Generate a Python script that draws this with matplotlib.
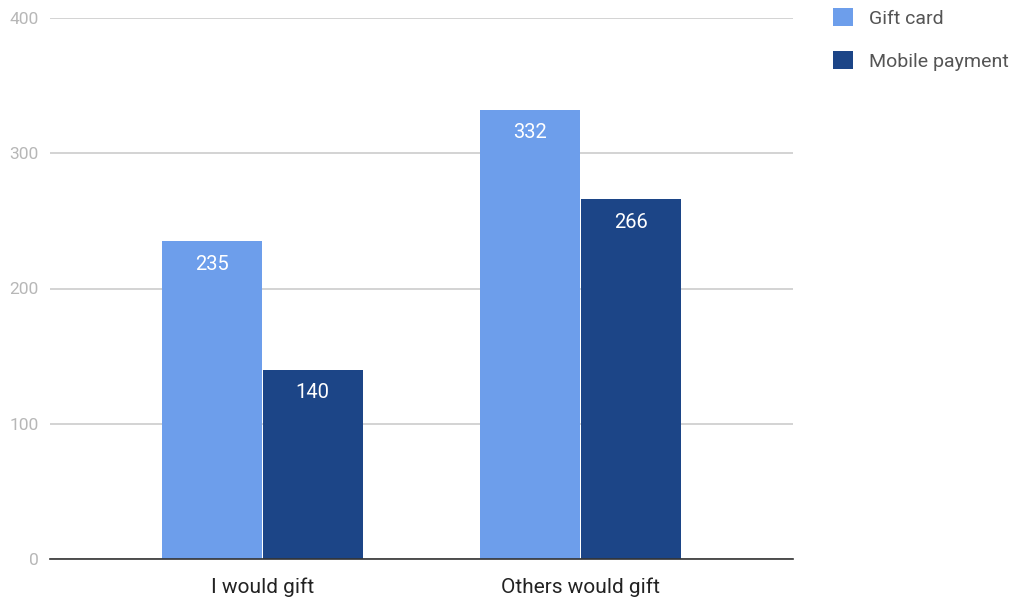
import matplotlib
matplotlib.use("Agg")
import matplotlib.pyplot as plt
import numpy as np

plt.rcParams['font.family'] = ['Roboto', 'DejaVu Sans']

categories = ["I would gift", "Others would gift"]
series_names = ["Gift card", "Mobile payment"]
gift_card = [235, 332]
mobile_payment = [140, 266]
yticks = [0, 100, 200, 300, 400]

colors = ["#6d9eeb", "#1c4587"]

fig = plt.figure(figsize=(10.16, 5.99), dpi=100)
ax = fig.add_axes([50/1016, 40/599, 743/1016, 541/599])

x = np.arange(len(categories))
width = 0.314
gap = 0.003
series = [gift_card, mobile_payment]
for i, (vals, name, col) in enumerate(zip(series, series_names, colors)):
    offs = (i - 0.5) * (width + gap)
    bars = ax.bar(x + offs, vals, width, color=col, label=name, zorder=3)
    for b, v in zip(bars, vals):
        ax.annotate(str(v), (b.get_x() + b.get_width() / 2, v),
                    xytext=(0, -23), textcoords="offset pixels",
                    ha="center", va="center", color="white", fontsize=14.5, zorder=4)

ax.set_xlim(-0.667, 1.667)
ax.set_ylim(0, 400)
ax.set_yticks(yticks)
ax.set_yticklabels([str(t) for t in yticks], color="#b7b7b7", fontsize=12.5)
ax.yaxis.grid(True, color="#cccccc", linewidth=1.2, zorder=0)
ax.set_xticks(x)
ax.set_xticklabels(categories, fontsize=15, color="#222222")
ax.tick_params(axis="both", length=0)
ax.tick_params(axis="y", pad=8)
ax.tick_params(axis="x", pad=13)
for s in ["top", "right", "left"]:
    ax.spines[s].set_visible(False)
ax.spines["bottom"].set_color("#333333")
ax.spines["bottom"].set_linewidth(1.2)
ax.spines["bottom"].set_zorder(5)

leg = fig.legend(loc="upper left", bbox_to_anchor=(833/1016, 1 - 8/599),
                 frameon=False, fontsize=14, handlelength=1.03, handleheight=1.03,
                 labelspacing=1.22, handletextpad=0.83, labelcolor="#555555",
                 borderpad=0, borderaxespad=0)

fig.savefig("out.png", dpi=100)
